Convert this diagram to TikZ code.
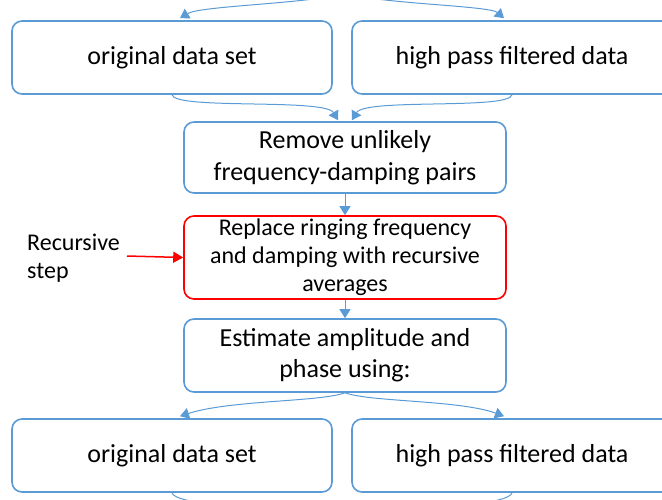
\documentclass[tikz,border=0pt]{standalone}
\usepackage{fontspec}
\setmainfont{Carlito}
\usetikzlibrary{arrows.meta,calc}
\definecolor{bl}{RGB}{91,155,213}
\tikzset{
  box/.style={draw=bl,line width=1.6pt,rounded corners=10pt,fill=white,align=center,inner sep=0pt,font=\fontsize{26}{32}\selectfont},
  redbox/.style={box,draw=red,font=\fontsize{24}{28}\selectfont},
  conn/.style={draw=bl,line width=1pt,-{Triangle[width=11pt,length=9pt]}},
  redarrow/.style={draw=red,line width=1.5pt,-{Triangle[width=11pt,length=10pt]}}
}
\begin{document}
\begin{tikzpicture}[x=1pt,y=-1pt]
\useasboundingbox (0,0) rectangle (662,499);
\clip (0,0) rectangle (662,499);
\node[box,minimum width=320pt,minimum height=73pt] (tl) at (172,57.5) {original data set};
\node[box,minimum width=320pt,minimum height=73pt] (tr) at (512,57.5) {high pass filtered data};
\node[box,minimum width=322pt,minimum height=71pt] (rm) at (345,157.5) {Remove unlikely\\frequency-damping pairs};
\node[redbox,minimum width=322pt,minimum height=83pt] (rr) at (345,257.5) {Replace ringing frequency\\and damping with recursive\\averages};
\node[box,minimum width=322pt,minimum height=73pt,font=\fontsize{26}{31}\selectfont] (es) at (345,355.5) {Estimate amplitude and\\phase using:};
\node[box,minimum width=320pt,minimum height=73pt] (bl) at (172,455.5) {original data set};
\node[box,minimum width=320pt,minimum height=73pt] (br) at (512,455.5) {high pass filtered data};
\node[align=left,anchor=west,inner sep=0pt,font=\fontsize{24}{28}\selectfont] (rs) at (27,258) {Recursive\\step};
\coordinate (top) at (345,-6);
\coordinate (bottomL) at (300,512);
\coordinate (bottomR) at (385,512);
\coordinate (rsEnd) at (127,256);
% top incoming
\draw[conn] (top) .. controls (300,4) and (200,6) .. ([xshift=8pt,yshift=2pt]tl.north);
\draw[conn] (top) .. controls (390,4) and (490,6) .. ([xshift=-8pt,yshift=2pt]tr.north);
% top boxes to remove
\draw[conn] (tl.south) .. controls (175,110) and (325,98) .. ([xshift=-7pt,yshift=1pt]rm.north);
\draw[conn] (tr.south) .. controls (509,110) and (365,98) .. ([xshift=7pt,yshift=1pt]rm.north);
% vertical
\draw[conn] (rm.south) -- (rr.north);
\draw[conn] (rr.south) -- (es.north);
% estimate to bottom
\draw[conn] (es.south) .. controls (320,402) and (230,400) .. ([xshift=8pt,yshift=2pt]bl.north);
\draw[conn] (es.south) .. controls (370,402) and (460,400) .. ([xshift=-8pt,yshift=2pt]br.north);
% bottom outgoing
\draw[draw=bl,line width=1pt] (bl.south) .. controls (175,505) and (260,508) .. (bottomL);
\draw[draw=bl,line width=1pt] (br.south) .. controls (509,505) and (425,508) .. (bottomR);
% red arrow
\draw[redarrow] (rsEnd) -- (rr.west);
\end{tikzpicture}
\end{document}
